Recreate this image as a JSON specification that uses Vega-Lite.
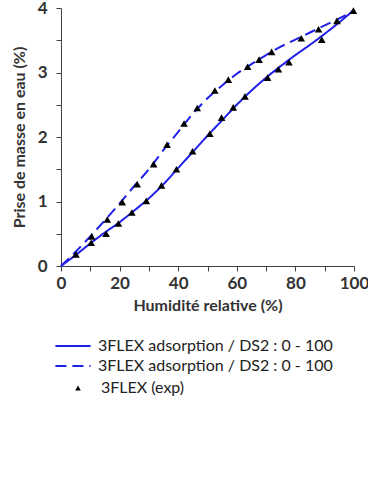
{
  "$schema": "https://vega.github.io/schema/vega-lite/v6.json",
  "autosize": "none",
  "width": 293,
  "height": 258,
  "padding": {"left": 61, "top": 8, "right": 14, "bottom": 211},
  "background": "white",
  "config": {
    "view": {"stroke": null},
    "font": "Lato",
    "axis": {
      "grid": false,
      "domainColor": "#404040",
      "tickColor": "#404040",
      "tickSize": 5,
      "labelFont": "Lato",
      "labelFontWeight": "bold",
      "labelFontSize": 17,
      "labelColor": "#333333",
      "titleFont": "Lato",
      "titleFontWeight": "bold",
      "titleFontSize": 16,
      "titleColor": "#333333"
    },
    "legend": {
      "labelFont": "Lato",
      "labelFontSize": 16,
      "labelColor": "#222222",
      "labelLimit": 400
    }
  },
  "data": {
    "values": [
      {"x": 0, "y": 0, "s": "lower"},
      {"x": 5, "y": 0.17, "s": "lower"},
      {"x": 10, "y": 0.35, "s": "lower"},
      {"x": 15, "y": 0.52, "s": "lower"},
      {"x": 20, "y": 0.68, "s": "lower"},
      {"x": 25, "y": 0.86, "s": "lower"},
      {"x": 30, "y": 1.05, "s": "lower"},
      {"x": 35, "y": 1.27, "s": "lower"},
      {"x": 40, "y": 1.52, "s": "lower"},
      {"x": 45, "y": 1.77, "s": "lower"},
      {"x": 50, "y": 2.02, "s": "lower"},
      {"x": 55, "y": 2.26, "s": "lower"},
      {"x": 60, "y": 2.5, "s": "lower"},
      {"x": 65, "y": 2.72, "s": "lower"},
      {"x": 70, "y": 2.92, "s": "lower"},
      {"x": 75, "y": 3.1, "s": "lower"},
      {"x": 80, "y": 3.27, "s": "lower"},
      {"x": 85, "y": 3.43, "s": "lower"},
      {"x": 90, "y": 3.6, "s": "lower"},
      {"x": 95, "y": 3.78, "s": "lower"},
      {"x": 100, "y": 3.97, "s": "lower"},
      {"x": 0, "y": 0, "s": "upper"},
      {"x": 5, "y": 0.22, "s": "upper"},
      {"x": 10, "y": 0.46, "s": "upper"},
      {"x": 15, "y": 0.71, "s": "upper"},
      {"x": 20, "y": 0.97, "s": "upper"},
      {"x": 25, "y": 1.24, "s": "upper"},
      {"x": 30, "y": 1.5, "s": "upper"},
      {"x": 35, "y": 1.8, "s": "upper"},
      {"x": 40, "y": 2.08, "s": "upper"},
      {"x": 45, "y": 2.36, "s": "upper"},
      {"x": 50, "y": 2.6, "s": "upper"},
      {"x": 55, "y": 2.8, "s": "upper"},
      {"x": 60, "y": 2.98, "s": "upper"},
      {"x": 65, "y": 3.13, "s": "upper"},
      {"x": 70, "y": 3.27, "s": "upper"},
      {"x": 75, "y": 3.4, "s": "upper"},
      {"x": 80, "y": 3.51, "s": "upper"},
      {"x": 85, "y": 3.62, "s": "upper"},
      {"x": 90, "y": 3.73, "s": "upper"},
      {"x": 95, "y": 3.84, "s": "upper"},
      {"x": 100, "y": 3.96, "s": "upper"},
      {"x": 5.1, "y": 0.18, "s": "exp"},
      {"x": 10.3, "y": 0.36, "s": "exp"},
      {"x": 10.5, "y": 0.46, "s": "exp"},
      {"x": 15.4, "y": 0.5, "s": "exp"},
      {"x": 15.8, "y": 0.72, "s": "exp"},
      {"x": 19.6, "y": 0.66, "s": "exp"},
      {"x": 20.9, "y": 0.99, "s": "exp"},
      {"x": 24.2, "y": 0.83, "s": "exp"},
      {"x": 26, "y": 1.27, "s": "exp"},
      {"x": 29.1, "y": 1.01, "s": "exp"},
      {"x": 31.6, "y": 1.58, "s": "exp"},
      {"x": 34.3, "y": 1.25, "s": "exp"},
      {"x": 36.2, "y": 1.88, "s": "exp"},
      {"x": 39.4, "y": 1.5, "s": "exp"},
      {"x": 42, "y": 2.21, "s": "exp"},
      {"x": 44.9, "y": 1.78, "s": "exp"},
      {"x": 46.5, "y": 2.45, "s": "exp"},
      {"x": 50.8, "y": 2.05, "s": "exp"},
      {"x": 52.5, "y": 2.72, "s": "exp"},
      {"x": 54.8, "y": 2.3, "s": "exp"},
      {"x": 57.1, "y": 2.89, "s": "exp"},
      {"x": 58.8, "y": 2.46, "s": "exp"},
      {"x": 62.8, "y": 2.63, "s": "exp"},
      {"x": 63.7, "y": 3.09, "s": "exp"},
      {"x": 67.6, "y": 3.2, "s": "exp"},
      {"x": 70.5, "y": 2.92, "s": "exp"},
      {"x": 71.9, "y": 3.32, "s": "exp"},
      {"x": 74.2, "y": 3.05, "s": "exp"},
      {"x": 77.8, "y": 3.16, "s": "exp"},
      {"x": 82, "y": 3.53, "s": "exp"},
      {"x": 87.9, "y": 3.67, "s": "exp"},
      {"x": 89, "y": 3.51, "s": "exp"},
      {"x": 94.2, "y": 3.8, "s": "exp"},
      {"x": 99.8, "y": 3.96, "s": "exp"}
    ]
  },
  "encoding": {
    "x": {
      "field": "x", "type": "quantitative",
      "scale": {"domain": [0, 100], "nice": false},
      "axis": {
        "title": "Humidité relative (%)",
        "values": [0, 10, 20, 30, 40, 50, 60, 70, 80, 90, 100],
        "labelExpr": "datum.value % 20 === 0 ? format(datum.value, 'd') : ''",
        "labelPadding": 4,
        "titlePadding": 6,
        "labelFlush": false
      }
    },
    "y": {
      "field": "y", "type": "quantitative",
      "scale": {"domain": [0, 4], "nice": false},
      "axis": {
        "title": "Prise de masse en eau (%)",
        "values": [0, 0.5, 1, 1.5, 2, 2.5, 3, 3.5, 4],
        "labelExpr": "datum.value % 1 === 0 ? format(datum.value, 'd') : ''",
        "labelPadding": 9,
        "titlePadding": 10,
        "labelFlush": false
      }
    }
  },
  "layer": [
    {
      "transform": [{"filter": "datum.s !== 'exp'"}],
      "mark": {"type": "line", "strokeWidth": 2, "interpolate": "monotone"},
      "encoding": {
        "color": {
          "field": "s", "type": "nominal",
          "scale": {"domain": ["lower", "upper"], "range": ["#1f1fe6", "#1f1fe6"]},
          "legend": {
            "title": null, "orient": "none", "legendX": 0, "legendY": 326,
            "symbolType": "M-1.6,0H1.6", "symbolSize": 484, "symbolStrokeWidth": 2,
            "labelExpr": "'3FLEX adsorption / DS2 : 0 - 100'",
            "rowPadding": 0, "labelOffset": 13
          }
        },
        "strokeDash": {
          "field": "s", "type": "nominal",
          "scale": {"domain": ["lower", "upper"], "range": [[1, 0], [11, 6]]},
          "legend": {
            "title": null, "orient": "none", "legendX": 0, "legendY": 326,
            "symbolType": "M-1.6,0H1.6", "symbolSize": 484, "symbolStrokeWidth": 2,
            "labelExpr": "'3FLEX adsorption / DS2 : 0 - 100'",
            "rowPadding": 0, "labelOffset": 13
          }
        }
      }
    },
    {
      "transform": [{"filter": "datum.s === 'exp'"}],
      "mark": {"type": "point", "filled": true, "color": "black", "opacity": 1, "size": 58},
      "encoding": {
        "shape": {
          "field": "s", "type": "nominal",
          "scale": {"domain": ["exp"], "range": ["triangle-up"]},
          "legend": {
            "title": null, "orient": "none", "legendX": 9, "legendY": 372,
            "symbolFillColor": "black", "symbolStrokeColor": "black",
            "symbolSize": 32, "labelOffset": 15,
            "labelExpr": "'3FLEX (exp)'"
          }
        }
      }
    }
  ]
}
